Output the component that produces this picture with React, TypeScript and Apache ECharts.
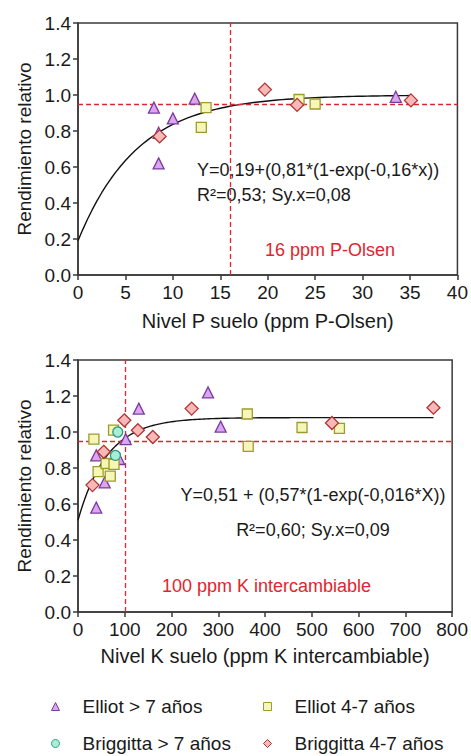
import React, { useEffect, useRef } from "react";
import * as echarts from "echarts";

// ---------- Data ----------
const SERIES_NAMES = ["Elliot > 7 años", "Elliot 4-7 años", "Briggitta > 7 años", "Briggitta 4-7 años"];

// Top panel: phosphorus (ppm P-Olsen) vs relative yield
const P_ELLIOT_GT7 = [[8.0, 0.93], [8.5, 0.79], [8.5, 0.62], [10.0, 0.87], [12.3, 0.98], [33.5, 0.99]];
const P_ELLIOT_4_7 = [[13.0, 0.82], [13.5, 0.93], [23.3, 0.975], [25.0, 0.95]];
const P_BRIGGITTA_GT7: number[][] = [];
const P_BRIGGITTA_4_7 = [[8.6, 0.77], [19.7, 1.03], [23.1, 0.945], [35.1, 0.97]];

// Bottom panel: potassium (ppm K intercambiable) vs relative yield
const K_ELLIOT_GT7 = [[39, 0.87], [39, 0.58], [57, 0.72], [88, 0.85], [102, 0.96], [130, 1.13], [278, 1.22], [305, 1.03]];
const K_ELLIOT_4_7 = [[34, 0.96], [76, 1.01], [43, 0.78], [60, 0.825], [77, 0.82], [69, 0.755], [362, 1.1], [364, 0.92], [479, 1.025], [559, 1.02]];
const K_BRIGGITTA_GT7 = [[85, 1.0], [80, 0.87]];
const K_BRIGGITTA_4_7 = [[31, 0.705], [55, 0.89], [99, 1.065], [128, 1.01], [160, 0.972], [243, 1.13], [543, 1.05], [760, 1.135]];

// Fitted models printed on the chart: Y = a + b*(1-exp(-k*x))
const P_FIT = { a: 0.19, b: 0.81, k: 0.16, xMax: 35, steps: 70 };
const K_FIT = { a: 0.51, b: 0.57, k: 0.016, xMax: 760, steps: 152 };

// Critical levels
const P_CRITICAL = 16;
const K_CRITICAL = 100;
const RY_CRITICAL = 0.95;

// Axes
const P_X = { min: 0, max: 40, interval: 5 };
const K_X = { min: 0, max: 800, interval: 100 };
const Y_AX = { min: 0, max: 1.4, interval: 0.2 };

// Texts
const P_EQ = "Y=0,19+(0,81*(1-exp(-0,16*x))";
const P_STATS = "R²=0,53; Sy.x=0,08";
const P_LABEL = "16 ppm P-Olsen";
const K_EQ = "Y=0,51 + (0,57*(1-exp(-0,016*X))";
const K_STATS = "R²=0,60; Sy.x=0,09";
const K_LABEL = "100 ppm K intercambiable";
const P_XNAME = "Nivel P suelo (ppm P-Olsen)";
const K_XNAME = "Nivel K suelo (ppm K intercambiable)";
const YNAME = "Rendimiento relativo";

// ---------- Styling ----------
const FONT = "Liberation Sans, Arial, sans-serif";
const AXIS_COLOR = "#3a3a3a";
const TEXT_COLOR = "#1a1a1a";
const RED = "#e0262c";

const STYLES = [
  { symbol: "triangle", size: 11, color: "#dca4f2", border: "#7a3c9c" },
  { symbol: "rect", size: 10, color: "#f6f6b8", border: "#9c9c2e" },
  { symbol: "circle", size: 10, color: "#a6eed8", border: "#2e9a78" },
  { symbol: "diamond", size: 13, color: "#f7b8b8", border: "#b03434" },
];

function fitCurve(f: { a: number; b: number; k: number; xMax: number; steps: number }) {
  const pts: number[][] = [];
  for (let i = 0; i <= f.steps; i++) {
    const x = (f.xMax * i) / f.steps;
    pts.push([x, f.a + f.b * (1 - Math.exp(-f.k * x))]);
  }
  return pts;
}

function makeAxes(gridIndex: number, xr: { min: number; max: number; interval: number }, xName: string, nameGap: number) {
  const common = {
    gridIndex,
    axisLine: { show: true, onZero: false, lineStyle: { color: AXIS_COLOR, width: 1.5 } },
    axisTick: { show: true, inside: false, length: 5, lineStyle: { color: AXIS_COLOR, width: 1.5 } },
    splitLine: { show: false },
  };
  const x = {
    ...common,
    type: "value",
    min: xr.min,
    max: xr.max,
    interval: xr.interval,
    name: xName,
    nameLocation: "middle",
    nameGap,
    nameTextStyle: { fontSize: 20, color: TEXT_COLOR, fontFamily: FONT },
    axisLabel: { fontSize: 19, color: TEXT_COLOR, fontFamily: FONT, margin: 8 },
  };
  const y = {
    ...common,
    type: "value",
    min: Y_AX.min,
    max: Y_AX.max,
    interval: Y_AX.interval,
    name: YNAME,
    nameLocation: "middle",
    nameGap: 44,
    nameTextStyle: { fontSize: 19, color: TEXT_COLOR, fontFamily: FONT },
    axisLabel: { fontSize: 19, color: TEXT_COLOR, fontFamily: FONT, margin: 7, formatter: (v: number) => v.toFixed(1) },
  };
  return { x, y };
}

function makeSeries(idx: number, groups: number[][][], fit: number[][], xCrit: number) {
  const order = [0, 1, 2, 3];
  const scatter = order.map((g) => ({
    type: "scatter",
    name: SERIES_NAMES[g],
    xAxisIndex: idx,
    yAxisIndex: idx,
    data: groups[g],
    symbol: STYLES[g].symbol,
    symbolSize: STYLES[g].size,
    itemStyle: { color: STYLES[g].color, borderColor: STYLES[g].border, borderWidth: 1.3, opacity: 1 },
    z: 5 + g,
  }));
  const curve = {
    type: "line",
    name: "fit" + idx,
    xAxisIndex: idx,
    yAxisIndex: idx,
    data: fit,
    showSymbol: false,
    smooth: false,
    lineStyle: { color: "#111", width: 1.4 },
    z: 4,
    markLine: {
      silent: true,
      symbol: "none",
      label: { show: false },
      lineStyle: { color: RED, type: [5, 3], width: 1.3 },
      data: [{ xAxis: xCrit }, { yAxis: RY_CRITICAL }],
    },
  };
  return [curve, ...scatter];
}

export default function App() {
  const ref = useRef<HTMLDivElement>(null);
  useEffect(() => {
    if (!ref.current) return;
    const chart = echarts.init(ref.current, null, { renderer: "svg" });
    const a1 = makeAxes(0, P_X, P_XNAME, 36);
    const a2 = makeAxes(1, K_X, K_XNAME, 34);
    const legendPos = [
      { left: 51, top: 697 },
      { left: 263, top: 697 },
      { left: 51, top: 734 },
      { left: 263, top: 734 },
    ];
    const option = {
      animation: false,
      backgroundColor: "#ffffff",
      textStyle: { fontFamily: FONT },
      grid: [
        { left: 78, top: 23, width: 380, height: 252, show: true, borderColor: AXIS_COLOR, borderWidth: 1.5, backgroundColor: "transparent" },
        { left: 78, top: 360, width: 380, height: 252, show: true, borderColor: AXIS_COLOR, borderWidth: 1.5, backgroundColor: "transparent" },
      ],
      xAxis: [a1.x, a2.x],
      yAxis: [a1.y, a2.y],
      legend: SERIES_NAMES.map((n, i) => ({
        data: [n],
        left: legendPos[i].left,
        top: legendPos[i].top,
        padding: 0,
        itemWidth: 8,
        itemHeight: 8,
        selectedMode: false,
        itemStyle: { borderWidth: 1 },
        textStyle: { fontSize: 19, lineHeight: 19, color: TEXT_COLOR, fontFamily: FONT, padding: [0, 0, 0, 18] },
      })),
      series: [
        ...makeSeries(0, [P_ELLIOT_GT7, P_ELLIOT_4_7, P_BRIGGITTA_GT7, P_BRIGGITTA_4_7], fitCurve(P_FIT), P_CRITICAL),
        ...makeSeries(1, [K_ELLIOT_GT7, K_ELLIOT_4_7, K_BRIGGITTA_GT7, K_BRIGGITTA_4_7], fitCurve(K_FIT), K_CRITICAL),
      ],
      graphic: [
        { type: "text", left: 197, top: 161, style: { text: P_EQ, fontSize: 18, fill: TEXT_COLOR, fontFamily: FONT } },
        { type: "text", left: 197, top: 186, style: { text: P_STATS, fontSize: 18, fill: TEXT_COLOR, fontFamily: FONT } },
        { type: "text", left: 265, top: 241, style: { text: P_LABEL, fontSize: 18, fill: RED, fontFamily: FONT } },
        { type: "text", x: 313, y: 495, style: { text: K_EQ, fontSize: 18, fill: TEXT_COLOR, fontFamily: FONT, align: "center", verticalAlign: "middle" } },
        { type: "text", x: 313, y: 530, style: { text: K_STATS, fontSize: 18, fill: TEXT_COLOR, fontFamily: FONT, align: "center", verticalAlign: "middle" } },
        { type: "text", left: 162, top: 577, style: { text: K_LABEL, fontSize: 18, fill: RED, fontFamily: FONT } },
      ],
    };
    chart.setOption(option as any);
    return () => chart.dispose();
  }, []);
  return <div ref={ref} style={{ position: "fixed", left: 0, top: 0, width: 471, height: 756, background: "#fff" }} />;
}
